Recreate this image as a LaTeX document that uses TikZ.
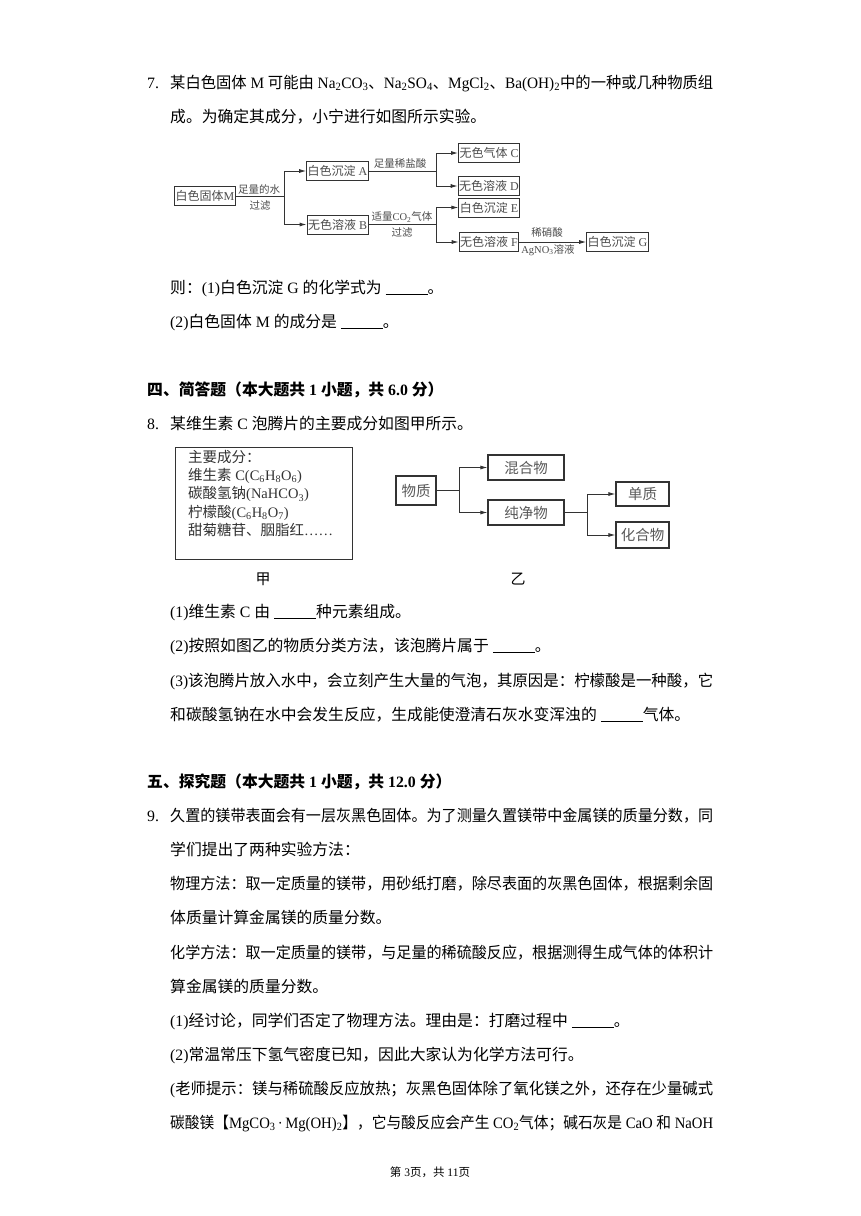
\documentclass[tikz,border=0pt]{standalone}
\usepackage{fontspec}
\usepackage{graphicx}
\usetikzlibrary{arrows.meta}
\setmainfont{Liberation Serif}
\newfontfamily\cjk{Noto Sans CJK SC}
% Chinese characters switch to the CJK family by themselves
\XeTeXinterchartokenstate=1
\newXeTeXintercharclass\cjkcls
\newcount\cjkc
\cjkc="4E00 \loop \XeTeXcharclass\cjkc=\cjkcls \advance\cjkc by 1 \ifnum\cjkc<"A000 \repeat
\cjkc="3000 \loop \XeTeXcharclass\cjkc=\cjkcls \advance\cjkc by 1 \ifnum\cjkc<"3040 \repeat
\cjkc="FF00 \loop \XeTeXcharclass\cjkc=\cjkcls \advance\cjkc by 1 \ifnum\cjkc<"FFF0 \repeat
\cjkc=0 \loop
  \XeTeXinterchartoks\cjkc\cjkcls={\begingroup\cjk}
  \XeTeXinterchartoks\cjkcls\cjkc={\endgroup}
  \advance\cjkc by 1 \ifnum\cjkc<\cjkcls \repeat
\XeTeXinterchartoks 4095 \cjkcls={\begingroup\cjk}
\XeTeXinterchartoks \cjkcls 4095 ={\endgroup}

\newcommand\bodyfont{\fontsize{15.8}{20}\selectfont}
\newcommand\boxfont{\fontsize{12}{14}\selectfont}
\newcommand\labfont{\fontsize{10.5}{12}\selectfont}
\newcommand\figfont{\fontsize{14.5}{18.3}\selectfont}
\newcommand\blank{\underline{\hspace{42pt}}}
\newcommand\sub[1]{\textsubscript{#1}}
% a full line of the page is squeezed to the text width
\newcommand\fullline[1]{\resizebox{543pt}{\height}{#1\relax}}

\begin{document}
\begin{tikzpicture}[x=1pt,y=-1pt,
  line/.style={anchor=base west,inner sep=0pt,font=\bodyfont},
  head/.style={line,font=\bodyfont\bfseries},
  box/.style={draw=black!80,line width=0.9pt,inner sep=1pt,minimum height=19pt,text=black!70,font=\boxfont},
  kbox/.style={draw=black!80,line width=1.1pt,inner sep=1pt,text=black!65,font=\figfont},
  lab/.style={inner sep=0pt,text=black!70,font=\labfont},
  link/.style={draw=black!80,line width=0.9pt},
  arr/.style={link,-{Latex[length=7pt,width=4pt]}}]

\useasboundingbox[fill=white] (0,0) rectangle (860,1216);

% question 7
\node[line] (q7num) at (147,88) {7.};
\node[line] (q7a) at (170,88) {\fullline{某白色固体 M 可能由 Na\sub{2}CO\sub{3}、Na\sub{2}SO\sub{4}、MgCl\sub{2}、Ba(OH)\sub{2}中的一种或几种物质组}};
\node[line] (q7b) at (170,122) {成。为确定其成分，小宁进行如图所示实验。};

\node[box,minimum width=60pt] (M) at (205,196) {白色固体M};
\node[box,minimum width=59pt] (A) at (337.5,171) {白色沉淀 A};
\node[box,minimum width=59pt] (B) at (337.5,224.5) {无色溶液 B};
\node[box,minimum width=58pt] (C) at (489,153) {无色气体 C};
\node[box,minimum width=58pt] (D) at (489,186) {无色溶液 D};
\node[box,minimum width=58pt] (E) at (489,207.5) {白色沉淀 E};
\node[box,minimum width=58pt] (F) at (489,242) {无色溶液 F};
\node[box,minimum width=59pt] (G) at (617.5,242) {白色沉淀 G};

\coordinate (sM) at (284,196);
\coordinate (sA) at (436,171);
\coordinate (sB) at (436,224.5);
\draw[link] (M.east) -- (sM);
\draw[arr] (sM) |- (A.west);
\draw[arr] (sM) |- (B.west);
\draw[link] (A.east) -- (sA);
\draw[arr] (sA) |- (C.west);
\draw[arr] (sA) |- (D.west);
\draw[link] (B.east) -- (sB);
\draw[arr] (sB) |- (E.west);
\draw[arr] (sB) |- (F.west);
\draw[arr] (F.east) -- (G.west);

\node[lab] (water) at (259,189) {足量的水};
\node[lab] (filt1) at (260,206) {过滤};
\node[lab] (hcl) at (400,164) {足量稀盐酸};
\node[lab] (co2) at (402,217) {适量CO\sub{2}气体};
\node[lab] (filt2) at (402,233) {过滤};
\node[lab] (hno3) at (547,233) {稀硝酸};
\node[lab] (agno3) at (548,250) {AgNO\sub{3}溶液};

\node[line] (q7c) at (170,293) {则：(1)白色沉淀 G 的化学式为 \blank{}。};
\node[line] (q7d) at (170,327) {(2)白色固体 M 的成分是 \blank{}。};

% section four
\node[head] (sec4) at (147,395) {四、简答题（本大题共 1 小题，共 6.0 分）};
\node[line] (q8num) at (147,429) {8.};
\node[line] (q8a) at (170,429) {某维生素 C 泡腾片的主要成分如图甲所示。};

\node[kbox,anchor=north west,minimum width=177pt,minimum height=112pt] (jia) at (175,447) {};
\node[anchor=north west,inner sep=0pt,align=left,text=black!80,font=\figfont] (jiatxt) at (188,450) {主要成分：\\
维生素 C(C\sub{6}H\sub{8}O\sub{6})\\
碳酸氢钠(NaHCO\sub{3})\\
柠檬酸(C\sub{6}H\sub{8}O\sub{7})\\
甜菊糖苷、胭脂红……};

\node[kbox,minimum width=40pt,minimum height=29pt] (wz) at (416,490.5) {物质};
\node[kbox,minimum width=76pt,minimum height=25pt] (hh) at (526,467.5) {混合物};
\node[kbox,minimum width=76pt,minimum height=25pt] (cj) at (526,512.5) {纯净物};
\node[kbox,minimum width=53pt,minimum height=24pt] (dz) at (642.5,494) {单质};
\node[kbox,minimum width=53pt,minimum height=26pt] (hhw) at (642.5,535) {化合物};
\coordinate (sW) at (459,490.5);
\coordinate (sC) at (587,512.5);
\draw[link] (wz.east) -- (sW);
\draw[arr] (sW) |- (hh.west);
\draw[arr] (sW) |- (cj.west);
\draw[link] (cj.east) -- (sC);
\draw[arr] (sC) |- (dz.west);
\draw[arr] (sC) |- (hhw.west);

\node[inner sep=0pt,font=\fontsize{15}{17}\selectfont] (jialab) at (263,579) {甲};
\node[inner sep=0pt,font=\fontsize{15}{17}\selectfont] (yilab) at (518,579) {乙};

\node[line] (q8b) at (170,617) {(1)维生素 C 由 \blank{}种元素组成。};
\node[line] (q8c) at (170,651) {(2)按照如图乙的物质分类方法，该泡腾片属于 \blank{}。};
\node[line] (q8d) at (170,686) {\fullline{(3)该泡腾片放入水中，会立刻产生大量的气泡，其原因是：柠檬酸是一种酸，它}};
\node[line] (q8e) at (170,720) {和碳酸氢钠在水中会发生反应，生成能使澄清石灰水变浑浊的 \blank{}气体。};

% section five
\node[head] (sec5) at (147,787) {五、探究题（本大题共 1 小题，共 12.0 分）};
\node[line] (q9num) at (147,821) {9.};
\node[line] (q9a) at (170,821) {\fullline{久置的镁带表面会有一层灰黑色固体。为了测量久置镁带中金属镁的质量分数，同}};
\node[line] (q9b) at (170,855) {学们提出了两种实验方法：};
\node[line] (q9c) at (170,889) {\fullline{物理方法：取一定质量的镁带，用砂纸打磨，除尽表面的灰黑色固体，根据剩余固}};
\node[line] (q9d) at (170,923) {体质量计算金属镁的质量分数。};
\node[line] (q9e) at (170,958) {\fullline{化学方法：取一定质量的镁带，与足量的稀硫酸反应，根据测得生成气体的体积计}};
\node[line] (q9f) at (170,992) {算金属镁的质量分数。};
\node[line] (q9g) at (170,1026) {(1)经讨论，同学们否定了物理方法。理由是：打磨过程中 \blank{}。};
\node[line] (q9h) at (170,1060) {(2)常温常压下氢气密度已知，因此大家认为化学方法可行。};
\node[line] (q9i) at (170,1094) {\fullline{(老师提示：镁与稀硫酸反应放热；灰黑色固体除了氧化镁之外，还存在少量碱式}};
\node[line] (q9j) at (170,1128) {\fullline{碳酸镁【MgCO\sub{3}\,·\,Mg(OH)\sub{2}】，它与酸反应会产生 CO\sub{2}气体；碱石灰是 CaO 和 NaOH}};

\node[inner sep=0pt,font=\fontsize{11.5}{13}\selectfont] (foot) at (430,1172) {第 3页，共 11页};
\end{tikzpicture}
\end{document}
